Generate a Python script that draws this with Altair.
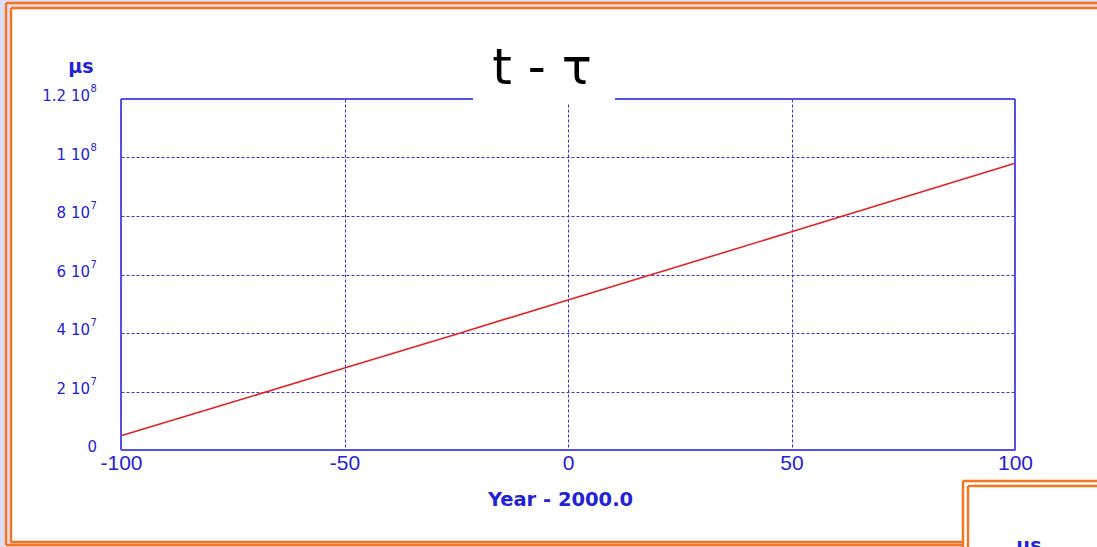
import altair as alt
import pandas as pd

# t - tau series (microseconds) against year offset from 2000.0
years = [-100, -75, -50, -25, 0, 25, 50, 75, 100]
t_minus_tau = [4.9e6, 1.64e7, 2.8e7, 3.96e7, 5.13e7, 6.29e7, 7.46e7, 8.63e7, 9.8e7]

x_ticks = [-100, -50, 0, 50, 100]
y_ticks = [0, 2e7, 4e7, 6e7, 8e7, 1e8, 1.2e8]
y_tick_mantissa = ["0", "2 10", "4 10", "6 10", "8 10", "1 10", "1.2 10"]
y_tick_exponent = ["", "7", "7", "7", "7", "8", "8"]

title_text = "t - τ"
unit_text = "μs"
x_title = "Year - 2000.0"

# page geometry
W, H = 1097, 547
OX, OY = 121, 99           # plot origin on the page
PW, PH = 894, 351          # plot size

BLUE_TEXT = "#2323d6"
BLUE_FRAME = "#5252e6"
BLUE_GRID = "#3434d0"
ORANGE = "#f7741f"
LAVENDER = "#dcdcf2"
FONT = "Liberation Sans"
WIDE = "DejaVu Sans"
BORDER_W = 2.4

df = pd.DataFrame({"year": years, "value": t_minus_tau})
ticks_df = pd.DataFrame({"value": y_ticks, "mant": y_tick_mantissa, "exp": y_tick_exponent})
one = alt.Data(values=[{}])

y_scale = alt.Scale(domain=[0, 1.2e8], nice=False)


def px(v):
    return alt.value(v - OX)


def py(v):
    return alt.value(v - OY)


def rule(x1, y1, x2, y2, color, width):
    return alt.Chart(one).mark_rule(color=color, strokeWidth=width).encode(
        x=px(x1), x2=px(x2), y=py(y1), y2=py(y2)
    )


def box(x1, y1, x2, y2, color):
    return alt.Chart(one).mark_rect(color=color, strokeWidth=0).encode(
        x=px(x1), x2=px(x2), y=py(y1), y2=py(y2)
    )


def label(txt, x, y, size, color, weight="normal", font=FONT, baseline="middle"):
    return alt.Chart(one).mark_text(
        text=txt, fontSize=size, color=color, fontWeight=weight, font=font,
        align="center", baseline=baseline,
    ).encode(x=px(x), y=py(y))


line = alt.Chart(df).mark_line(color="#e32222", strokeWidth=1.6).encode(
    x=alt.X(
        "year:Q",
        scale=alt.Scale(domain=[-100, 100], nice=False),
        axis=alt.Axis(
            values=x_ticks, title=x_title, domain=False, ticks=False,
            labelExpr="'' + datum.value",
            labelFontSize=21, labelColor=BLUE_TEXT, labelFont=FONT, labelPadding=2,
            labelFlush=False, labelOverlap=False,
            grid=True, gridColor=BLUE_GRID, gridDash=[3, 2], gridWidth=1,
            titleFont=WIDE, titleFontSize=19.5, titleFontWeight="bold", titleColor=BLUE_TEXT,
            titleX=560 - OX, titleY=499 - (OY + PH), titleBaseline="middle",
        ),
    ),
    y=alt.Y(
        "value:Q",
        scale=y_scale,
        axis=alt.Axis(
            values=y_ticks, title=None, domain=False, ticks=False, labels=False,
            grid=True, gridColor=BLUE_GRID, gridDash=[3, 2], gridWidth=1,
        ),
    ),
)

# y tick labels written as mantissa plus raised exponent
tick_base = alt.Chart(ticks_df).transform_calculate(
    lx="datum.exp == '' ? " + str(97 - OX) + " : " + str(90 - OX)
)
y_mant = tick_base.mark_text(
    font=WIDE, fontSize=15, color=BLUE_TEXT, align="right", baseline="middle", dy=-3
).encode(x=alt.X("lx:Q", scale=None), y=alt.Y("value:Q", scale=y_scale), text="mant:N")
y_exp = tick_base.mark_text(
    font=WIDE, fontSize=10, color=BLUE_TEXT, align="left", baseline="middle", dx=0.5, dy=-10
).encode(x=alt.X("lx:Q", scale=None), y=alt.Y("value:Q", scale=y_scale), text="exp:N")

layers = [
    # page margins outside the slide frame
    box(0, 0, W, 8, LAVENDER),
    box(0, 0, 11, H, LAVENDER),
    box(0, 542, 966, H, LAVENDER),
    # title card sitting on the plot frame
    box(473, 38, 615, 103, "white"),
    line,
    y_mant,
    y_exp,
    # plot frame
    rule(OX, OY, OX, OY + PH, BLUE_FRAME, 2),
    rule(OX + PW, OY, OX + PW, OY + PH, BLUE_FRAME, 2),
    rule(OX, OY + PH, OX + PW, OY + PH, BLUE_FRAME, 2),
    rule(OX, OY, 473, OY, BLUE_FRAME, 2),
    rule(615, OY, OX + PW, OY, BLUE_FRAME, 2),
    # double orange slide border
    rule(6, 3, W, 3, ORANGE, BORDER_W),
    rule(6, 3, 6, 545, ORANGE, BORDER_W),
    rule(6, 545, 965, 545, ORANGE, BORDER_W),
    rule(11, 8, W, 8, ORANGE, BORDER_W),
    rule(11, 8, 11, 542, ORANGE, BORDER_W),
    rule(11, 542, 965, 542, ORANGE, BORDER_W),
    # next slide panel peeking in at the lower right
    box(964, 482, W, H, "white"),
    rule(963, 481, W, 481, ORANGE, BORDER_W),
    rule(963, 481, 963, H, ORANGE, BORDER_W),
    rule(968, 486, W, 486, ORANGE, BORDER_W),
    rule(968, 486, 968, H, ORANGE, BORDER_W),
    # texts
    label(title_text, 542, 84, 50, "black", font=WIDE, baseline="alphabetic"),
    label(unit_text, 81, 67, 19, BLUE_TEXT, weight="bold", font=WIDE),
    label(unit_text, 1029, 546, 19, BLUE_TEXT, weight="bold", font=WIDE),
]

chart = alt.layer(*layers).properties(
    width=PW,
    height=PH,
    padding={"left": OX, "top": OY, "right": W - OX - PW, "bottom": H - OY - PH},
    autosize=alt.AutoSizeParams(type="none"),
    background="white",
).configure_view(stroke=None)

chart.save("out.html", embed_options={"renderer": "svg", "actions": False})
